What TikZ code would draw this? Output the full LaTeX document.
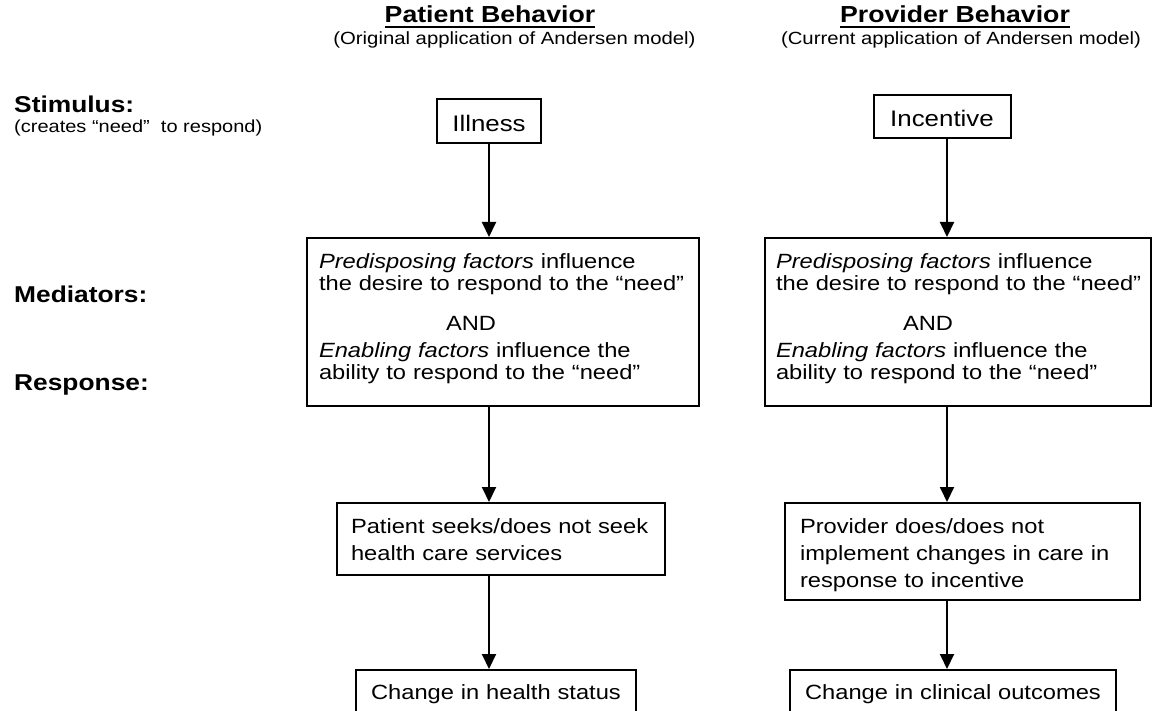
\documentclass[tikz,border=0pt]{standalone}
\usepackage{fontspec}
\setmainfont{Liberation Sans}[FakeStretch=1.15]
\usetikzlibrary{arrows.meta}
\newcommand\headfont{\fontsize{23.2}{28}\selectfont\bfseries}
\newcommand\notefont{\fontsize{17.65}{21}\selectfont}
\newcommand\rowfont{\fontsize{22.9}{28}\selectfont\bfseries}
\newcommand\cuefont{\fontsize{22.5}{27}\selectfont}
\newcommand\boxfont{\fontsize{20.6}{27}\selectfont\lineskiplimit=-100pt\relax}
\newcommand\medfont{\fontsize{20.6}{22}\selectfont\lineskiplimit=-100pt\relax}
\newcommand\oneline[1]{\mbox{#1}}
\tikzset{>={Triangle[length=15pt,width=14pt]},
  stage/.style={draw,line width=2pt,anchor=north west,inner ysep=0pt,align=left,font=\boxfont},
  cue/.style={draw,line width=2pt,anchor=north,inner sep=0pt,font=\cuefont},
  header/.style={anchor=base,inner sep=0pt,font=\headfont},
  note/.style={anchor=base,inner sep=0pt,font=\notefont},
  row/.style={anchor=base west,inner sep=0pt,font=\rowfont},
  flow/.style={->,line width=2pt}}

\begin{document}
\begin{tikzpicture}[x=1pt,y=-1pt]
    \useasboundingbox (0,0) rectangle (1152,711);
    \fill [white] (0,0) rectangle (1152,711);
    \clip (0,0) rectangle (1152,711);
    % column heads
    \node [header] (patient) at (490,22.5) {Patient Behavior};
    \node [header] (provider) at (955,22.5) {Provider Behavior};
    \draw [line width=2.2pt] ([yshift=-4.3pt]patient.base west) -- ([yshift=-4.3pt]patient.base east);
    \draw [line width=2.2pt] ([yshift=-4.3pt]provider.base west) -- ([yshift=-4.3pt]provider.base east);
    \node [note] (original) at (514.5,45) {(Original application of Andersen model)};
    \node [note] (current) at (961,45) {(Current application of Andersen model)};
    % row labels
    \node [row] (stimulus) at (14,113) {Stimulus:};
    \node [note,anchor=base west,font=\fontsize{17.4}{21}\selectfont] (creates) at (14,133) {(creates “need”~ to respond)};
    \node [row] (mediators) at (14,303) {Mediators:};
    \node [row] (response) at (14,391) {Response:};
    % column lines of the arrows
    \coordinate (lcol) at (489,0);
    \coordinate (rcol) at (947,0);
    % patient side
    \node [cue,minimum width=104pt,text height=33pt,text depth=11pt] (illness) at (489,98) {Illness};
    \node [stage,font=\medfont,text width=368pt,inner xsep=12pt,text height=31pt,text depth=137pt] (medL) at (306,237)
      {\textit{Predisposing factors} influence\\ \oneline{the desire to respond to the “need”}\\[18pt]
       \hspace*{127pt}AND\\[5pt] \textit{Enabling factors} influence the\\ \oneline{ability to respond to the “need”}};
    \node [stage,text width=300pt,inner xsep=14pt,text height=30pt,text depth=42pt] (respL) at (336,502)
      {\oneline{Patient seeks/does not seek}\\ health care services};
    \node [stage,align=center,text width=260pt,inner xsep=10pt,text height=29pt,text depth=40pt] (chgL) at (355,669)
      {Change in health status};
    % provider side
    \node [cue,minimum width=137pt,text height=32pt,text depth=11pt] (incentive) at (942,94) {Incentive};
    \node [stage,font=\medfont,text width=364pt,inner xsep=11pt,text height=31pt,text depth=137pt] (medR) at (764,237)
      {\textit{Predisposing factors} influence\\ \oneline{the desire to respond to the “need”}\\[18pt]
       \hspace*{127pt}AND\\[5pt] \textit{Enabling factors} influence the\\ \oneline{ability to respond to the “need”}};
    \node [stage,text width=325pt,inner xsep=15pt,text height=30pt,text depth=67pt] (respR) at (784,502)
      {Provider does/does not\\ \oneline{implement changes in care in}\\ response to incentive};
    \node [stage,align=center,text width=306pt,inner xsep=10pt,text height=29pt,text depth=40pt] (chgR) at (789,669)
      {Change in clinical outcomes};
    % arrows
    \draw [flow] (lcol |- illness.south) -- (lcol |- medL.north);
    \draw [flow] (lcol |- medL.south) -- (lcol |- respL.north);
    \draw [flow] (lcol |- respL.south) -- (lcol |- chgL.north);
    \draw [flow] (rcol |- incentive.south) -- (rcol |- medR.north);
    \draw [flow] (rcol |- medR.south) -- (rcol |- respR.north);
    \draw [flow] (rcol |- respR.south) -- (rcol |- chgR.north);
\end{tikzpicture}
\end{document}
